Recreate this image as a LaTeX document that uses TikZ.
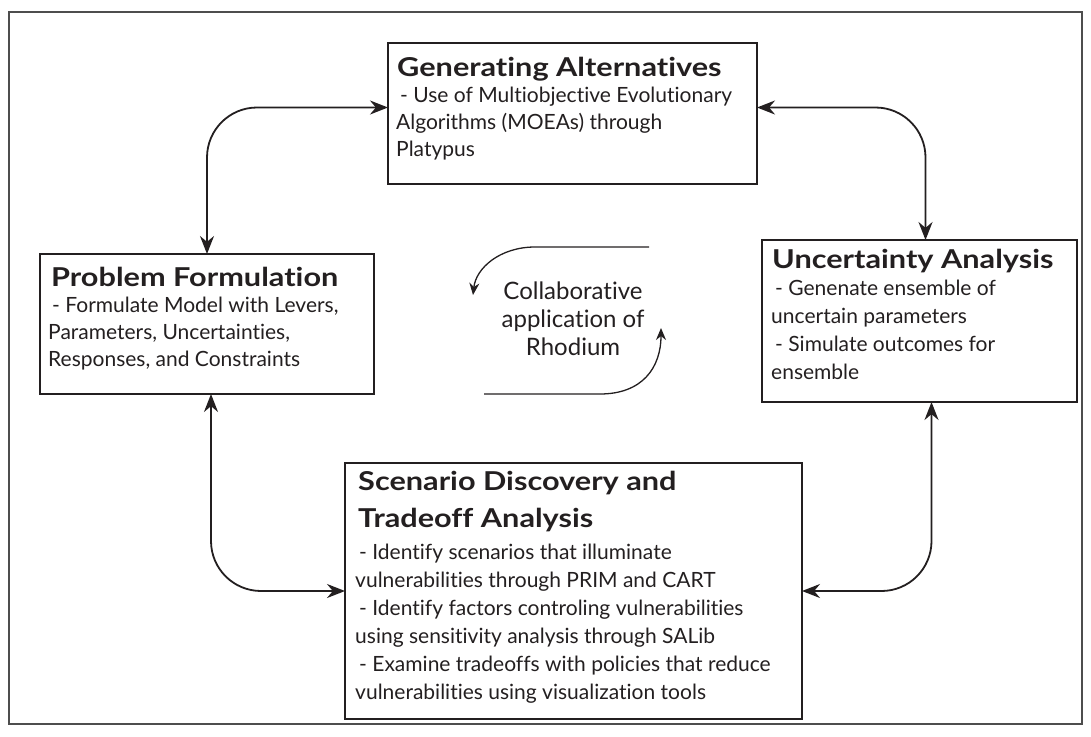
\documentclass[tikz,border=0pt]{standalone}
\usepackage{fontspec}
\setmainfont[Ligatures=NoCommon]{Lato}
\newfontfamily\titlefont[FakeStretch=1.18,Ligatures=NoCommon]{Lato}
\usetikzlibrary{arrows.meta}
\definecolor{ink}{HTML}{231F20}
\definecolor{frame}{HTML}{4D4D4D}
\begin{document}
\begin{tikzpicture}[x=1pt,y=-1pt,
  box/.style={draw=ink, line width=1.2pt, anchor=north west, inner sep=0pt, outer sep=0pt},
  ttl/.style={anchor=north west, inner sep=0pt, align=left, text=ink, font=\titlefont\fontsize{26}{34}\selectfont\bfseries},
  body/.style={anchor=north west, inner sep=0pt, align=left, text=ink, font=\fontsize{21}{#1}\selectfont},
  body/.default=27,
  conn/.style={line width=1.8pt, draw=ink, rounded corners=50pt,
    {Stealth[length=18pt,width=14pt]}-{Stealth[length=18pt,width=14pt]}},
  loop/.style={line width=1.3pt, draw=ink, -{Stealth[length=12pt,width=10pt]}},
]
\useasboundingbox (0,0) rectangle (1091,736);
\draw[frame, line width=1.5pt] (9,12) rectangle (1082,724);

% boxes
\node[box, minimum width=369pt, minimum height=141pt] (ga) at (388,43) {};
\node[box, minimum width=334pt, minimum height=140pt] (pf) at (40,254) {};
\node[box, minimum width=315pt, minimum height=162pt] (ua) at (762,240) {};
\node[box, minimum width=457pt, minimum height=256pt] (sd) at (345,463) {};

% texts (node top = baseline - 0.7*baselineskip)
\node[ttl] (gat) at (397,52) {\strut Generating Alternatives};
\node[body] (gab) at (396,83) {\strut\hspace{4pt}- Use of Multiobjective Evolutionary\\Algorithms (MOEAs) through\\Platypus};

\node[ttl] (pft) at (51,262) {\strut Problem Formulation};
\node[body] (pfb) at (48,293) {\strut\hspace{4pt}- Formulate Model with Levers,\\Parameters, Uncertainties,\\Responses, and Constraints};

\node[ttl] (uat) at (772,244) {\strut Uncertainty Analysis};
\node[body=28] (uab) at (771,276) {\strut\hspace{4pt}- Genenate ensemble of\\uncertain parameters\\\hspace{4pt}- Simulate outcomes for\\ensemble};

\node[ttl, font=\titlefont\fontsize{26}{37}\selectfont\bfseries] (sdt) at (358,464) {\strut Scenario Discovery and\\Tradeoff Analysis};
\node[body=28] (sdb) at (355,540) {\strut\hspace{4pt}- Identify scenarios that illuminate\\vulnerabilities through PRIM and CART\\\hspace{4pt}- Identify factors controling vulnerabilities\\using sensitivity analysis through SALib\\\hspace{4pt}- Examine tradeoffs with policies that reduce\\vulnerabilities using visualization tools};

\node[anchor=north, inner sep=0pt, align=center, text=ink, font=\fontsize{24}{28}\selectfont] (rh) at (573,280) {\strut Collaborative\\application of\\Rhodium};

% connectors
\draw[conn] (pf.north) |- ([yshift=6pt]ga.west);
\draw[conn] ([xshift=6pt]ua.north) |- ([yshift=6pt]ga.east);
\draw[conn] ([xshift=4pt]pf.south) |- (sd.west);
\draw[conn] ([xshift=12pt]ua.south) |- (sd.east);

% circular arrows around the centre text
\coordinate (a1) at (649,247);
\coordinate (a2) at (535,247);
\coordinate (a3) at (473,295);
\coordinate (b1) at (484,394);
\coordinate (b2) at (600,394);
\coordinate (b3) at (661,328);
\draw[loop] (a1) -- (a2) .. controls (500,247) and (476,268) .. (a3);
\draw[loop] (b1) -- (b2) .. controls (642,394) and (661,368) .. (b3);
\end{tikzpicture}
\end{document}
